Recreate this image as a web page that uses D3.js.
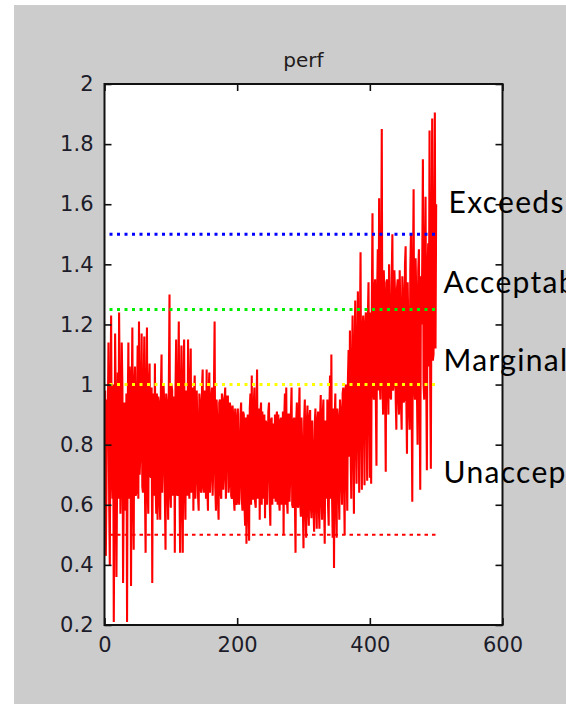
<!DOCTYPE html>
<html>
<head>
<meta charset="utf-8">
<script src="https://cdn.jsdelivr.net/npm/d3@7"></script>
<style>
  html, body { margin: 0; padding: 0; background: #ffffff; overflow: hidden; }
  svg { display: block; }
</style>
</head>
<body>
<script>
// perf samples, one per step from 0 to 500
const sampleStep = 1;
const perf = [
  0.78, 0.98, 0.43, 0.66, 0.95, 0.88, 1.14, 0.62, 0.40, 0.97,
  1.23, 0.70, 0.62, 1.00, 0.21, 0.64, 1.17, 0.93, 0.36, 0.68,
  1.04, 0.62, 1.24, 0.96, 0.57, 0.72, 1.14, 0.99, 0.34, 0.66,
  0.94, 0.64, 0.58, 0.97, 0.21, 0.90, 1.14, 0.62, 1.06, 0.99,
  0.33, 0.95, 1.19, 0.66, 0.45, 1.00, 1.06, 0.63, 0.64, 0.94,
  1.13, 0.62, 1.21, 0.70, 0.77, 0.99, 1.17, 0.66, 0.64, 0.98,
  1.16, 0.64, 0.44, 0.96, 1.19, 0.65, 0.57, 1.00, 1.07, 0.70,
  0.69, 0.99, 0.34, 0.92, 0.97, 0.63, 1.07, 0.68, 0.57, 0.97,
  0.55, 0.96, 0.94, 0.62, 0.55, 0.98, 1.10, 0.64, 0.74, 1.00,
  0.94, 0.63, 0.45, 0.97, 0.94, 0.66, 0.55, 0.99, 1.30, 0.64,
  0.59, 1.00, 0.98, 0.63, 0.75, 0.96, 0.44, 0.98, 1.15, 0.64,
  0.63, 0.99, 1.21, 0.66, 0.44, 0.97, 1.13, 0.62, 0.44, 0.99,
  1.15, 0.66, 0.55, 0.98, 0.86, 0.63, 1.15, 0.68, 0.62, 1.00,
  1.12, 0.64, 0.80, 0.99, 0.58, 0.96, 1.03, 0.62, 0.70, 0.98,
  0.87, 0.63, 0.58, 0.97, 0.94, 0.65, 0.64, 0.99, 1.05, 0.66,
  0.64, 0.98, 0.85, 0.62, 1.05, 0.66, 0.58, 0.97, 1.04, 0.64,
  0.70, 0.96, 0.99, 0.63, 0.73, 0.98, 1.21, 0.66, 0.58, 0.95,
  0.88, 0.62, 0.55, 0.94, 0.95, 0.64, 0.62, 0.97, 0.95, 0.65,
  0.70, 0.95, 0.99, 0.62, 0.77, 0.96, 0.96, 0.64, 0.67, 0.94,
  0.92, 0.63, 0.62, 0.93, 0.90, 0.62, 0.58, 0.92, 0.89, 0.60,
  0.61, 0.92, 0.79, 0.60, 0.68, 0.90, 0.94, 0.62, 0.58, 0.91,
  0.90, 0.60, 0.53, 0.89, 0.47, 0.86, 0.90, 0.58, 0.48, 0.92,
  0.97, 0.60, 1.03, 0.62, 0.62, 0.93, 0.99, 0.61, 0.59, 0.90,
  1.05, 0.62, 0.68, 0.92, 0.55, 0.90, 0.94, 0.60, 0.91, 0.62,
  0.66, 0.90, 0.555, 0.88, 0.87, 0.60, 0.72, 0.91, 0.94, 0.62,
  0.53, 0.88, 0.89, 0.60, 0.87, 0.62, 0.72, 0.90, 0.61, 0.89,
  0.91, 0.60, 0.90, 0.62, 0.58, 0.88, 0.89, 0.60, 0.72, 0.91,
  0.50, 0.89, 0.97, 0.60, 0.99, 0.62, 0.57, 0.90, 0.90, 0.61,
  0.70, 0.90, 0.99, 0.60, 0.59, 0.88, 0.89, 0.62, 0.44, 0.87,
  0.94, 0.60, 0.59, 0.90, 0.99, 0.61, 0.56, 0.89, 0.80, 0.60,
  0.455, 0.88, 0.95, 0.60, 0.49, 0.87, 0.93, 0.58, 0.53, 0.89,
  0.915, 0.60, 0.555, 0.88, 0.78, 0.60, 0.51, 0.87, 0.92, 0.61,
  0.52, 0.88, 0.91, 0.60, 0.52, 0.89, 0.965, 0.62, 0.55, 0.90,
  0.95, 0.61, 0.47, 0.88, 0.82, 0.62, 0.95, 0.60, 0.53, 0.91,
  1.03, 0.62, 1.10, 0.64, 0.49, 0.92, 0.39, 0.88, 0.97, 0.63,
  0.49, 0.92, 0.89, 0.66, 0.55, 0.95, 0.915, 0.68, 0.60, 0.97,
  0.99, 0.70, 0.50, 0.98, 1.00, 0.72, 0.58, 1.02, 1.115, 0.76,
  1.18, 0.80, 0.62, 1.06, 1.23, 0.82, 0.57, 1.10, 1.28, 0.84,
  0.67, 1.12, 1.31, 0.88, 0.64, 1.16, 1.44, 0.90, 0.65, 1.18,
  1.23, 0.92, 0.665, 1.20, 1.24, 0.94, 0.68, 1.22, 1.34, 0.96,
  0.69, 1.24, 0.67, 1.26, 1.57, 0.98, 0.95, 1.32, 1.35, 0.96,
  0.73, 1.30, 1.45, 0.98, 1.62, 1.00, 0.95, 1.36, 1.85, 1.02,
  0.90, 1.38, 1.30, 0.98, 0.71, 1.34, 1.35, 1.00, 0.90, 1.40,
  1.25, 0.96, 0.95, 1.36, 1.50, 0.98, 1.00, 1.38, 1.30, 0.95,
  0.85, 1.32, 1.35, 0.96, 0.90, 1.38, 1.25, 0.94, 0.85, 1.36,
  1.30, 0.94, 0.95, 1.40, 1.46, 0.96, 0.77, 1.34, 1.20, 0.92,
  0.85, 1.38, 1.50, 0.96, 0.61, 1.36, 1.65, 1.00, 0.95, 1.42,
  1.30, 0.98, 0.80, 1.38, 1.45, 0.97, 0.65, 1.36, 1.20, 1.40,
  1.75, 1.00, 0.95, 1.42, 1.625, 1.04, 0.715, 1.38, 1.47, 1.06,
  1.845, 1.02, 0.72, 1.44, 1.885, 1.08, 1.10, 1.40, 1.905, 1.12,
  1.60
];

// rating thresholds drawn as dotted guides
const thresholdValues = [1.5, 1.25, 1.0, 0.5];
const thresholdColors = ["#0000ff", "#00ee00", "#ffff00", "#ff0000"];
const thresholdEnd = 500;

// rating names on the right, with the level of their baseline
const ratingNames = ["Exceeds", "Acceptable", "Marginal", "Unacceptable"];
const ratingLevels = [1.57, 1.303, 1.046, 0.671];
const ratingIndent = [5, 0, 0, 0];

const xTicks = [0, 200, 400, 600];
const yTicks = [0.2, 0.4, 0.6, 0.8, 1.0, 1.2, 1.4, 1.6, 1.8, 2.0];
const chartTitle = "perf";

const W = 566, H = 704;
const plot = { left: 104.5, right: 502.5, top: 84, bottom: 625 };

const svg = d3.select("body").append("svg")
  .attr("width", W).attr("height", H);

// figure background
svg.append("rect").attr("x", 0).attr("y", 0).attr("width", W).attr("height", H).attr("fill", "#ffffff");
svg.append("rect").attr("x", 14).attr("y", 5).attr("width", W - 14).attr("height", H - 5).attr("fill", "#cccccc");

const x = d3.scaleLinear().domain([0, 600]).range([plot.left, plot.right]);
const y = d3.scaleLinear().domain([0.2, 2]).range([plot.bottom, plot.top]);

svg.append("rect")
  .attr("x", plot.left).attr("y", plot.top)
  .attr("width", plot.right - plot.left).attr("height", plot.bottom - plot.top)
  .attr("fill", "#ffffff");

svg.append("clipPath").attr("id", "plotclip")
  .append("rect")
  .attr("x", plot.left).attr("y", plot.top)
  .attr("width", plot.right - plot.left).attr("height", plot.bottom - plot.top);

const g = svg.append("g").attr("clip-path", "url(#plotclip)");

// perf trace
const line = d3.line()
  .x((d, i) => x(i * sampleStep))
  .y(d => y(d));

g.append("path")
  .datum(perf)
  .attr("fill", "none")
  .attr("stroke", "#ff0000")
  .attr("stroke-width", 2.1)
  .attr("stroke-linejoin", "miter")
  .attr("stroke-miterlimit", 1.5)
  .attr("d", line);

// dotted threshold guides
thresholdValues.forEach((v, i) => {
  const isRed = i === 3;
  g.append("line")
    .attr("x1", x(0)).attr("x2", x(thresholdEnd))
    .attr("y1", y(v)).attr("y2", y(v))
    .attr("stroke", thresholdColors[i])
    .attr("stroke-width", isRed ? 2 : 3)
    .attr("stroke-dasharray", isRed ? "3.5 4" : "3 4.5")
    .attr("stroke-dashoffset", -5);
});

const tickFont = "'DejaVu Sans', sans-serif";
const fmt = d => String(+d.toFixed(1));

// left axis with inward ticks
const yAxis = svg.append("g")
  .attr("transform", `translate(${plot.left},0)`)
  .call(d3.axisLeft(y).tickValues(yTicks).tickSize(-7).tickPadding(11).tickFormat(fmt));
// bottom axis with inward ticks
const xAxis = svg.append("g")
  .attr("transform", `translate(0,${plot.bottom})`)
  .call(d3.axisBottom(x).tickValues(xTicks).tickSize(-7).tickPadding(12).tickFormat(d3.format("d")));
// right and top axes, ticks only
const yAxisR = svg.append("g")
  .attr("transform", `translate(${plot.right},0)`)
  .call(d3.axisRight(y).tickValues(yTicks).tickSize(-7).tickFormat(""));
const xAxisT = svg.append("g")
  .attr("transform", `translate(0,${plot.top})`)
  .call(d3.axisTop(x).tickValues(xTicks).tickSize(-7).tickFormat(""));

[yAxis, xAxis, yAxisR, xAxisT].forEach(a => {
  a.select(".domain").remove();
  a.selectAll(".tick line").attr("stroke", "#111").attr("stroke-width", 1.6);
  a.selectAll(".tick text")
    .attr("fill", "#1c1c2a")
    .style("font-family", tickFont)
    .style("font-size", "21px");
});

// plot frame
svg.append("rect")
  .attr("x", plot.left).attr("y", plot.top)
  .attr("width", plot.right - plot.left).attr("height", plot.bottom - plot.top)
  .attr("fill", "none").attr("stroke", "#111").attr("stroke-width", 2);

// title
svg.append("text")
  .attr("x", (plot.left + plot.right) / 2)
  .attr("y", 67)
  .attr("text-anchor", "middle")
  .attr("fill", "#221a1a")
  .style("font-family", tickFont)
  .style("font-size", "20px")
  .text(chartTitle);

// rating names
svg.selectAll("text.rating")
  .data(ratingNames)
  .join("text")
  .attr("class", "rating")
  .attr("x", (d, i) => 443.5 + ratingIndent[i])
  .attr("y", (d, i) => y(ratingLevels[i]))
  .attr("fill", "#000")
  .style("font-family", "Lato, 'Open Sans', sans-serif")
  .style("font-size", "30px")
  .style("letter-spacing", "1.3px")
  .text(d => d);
</script>
</body>
</html>
